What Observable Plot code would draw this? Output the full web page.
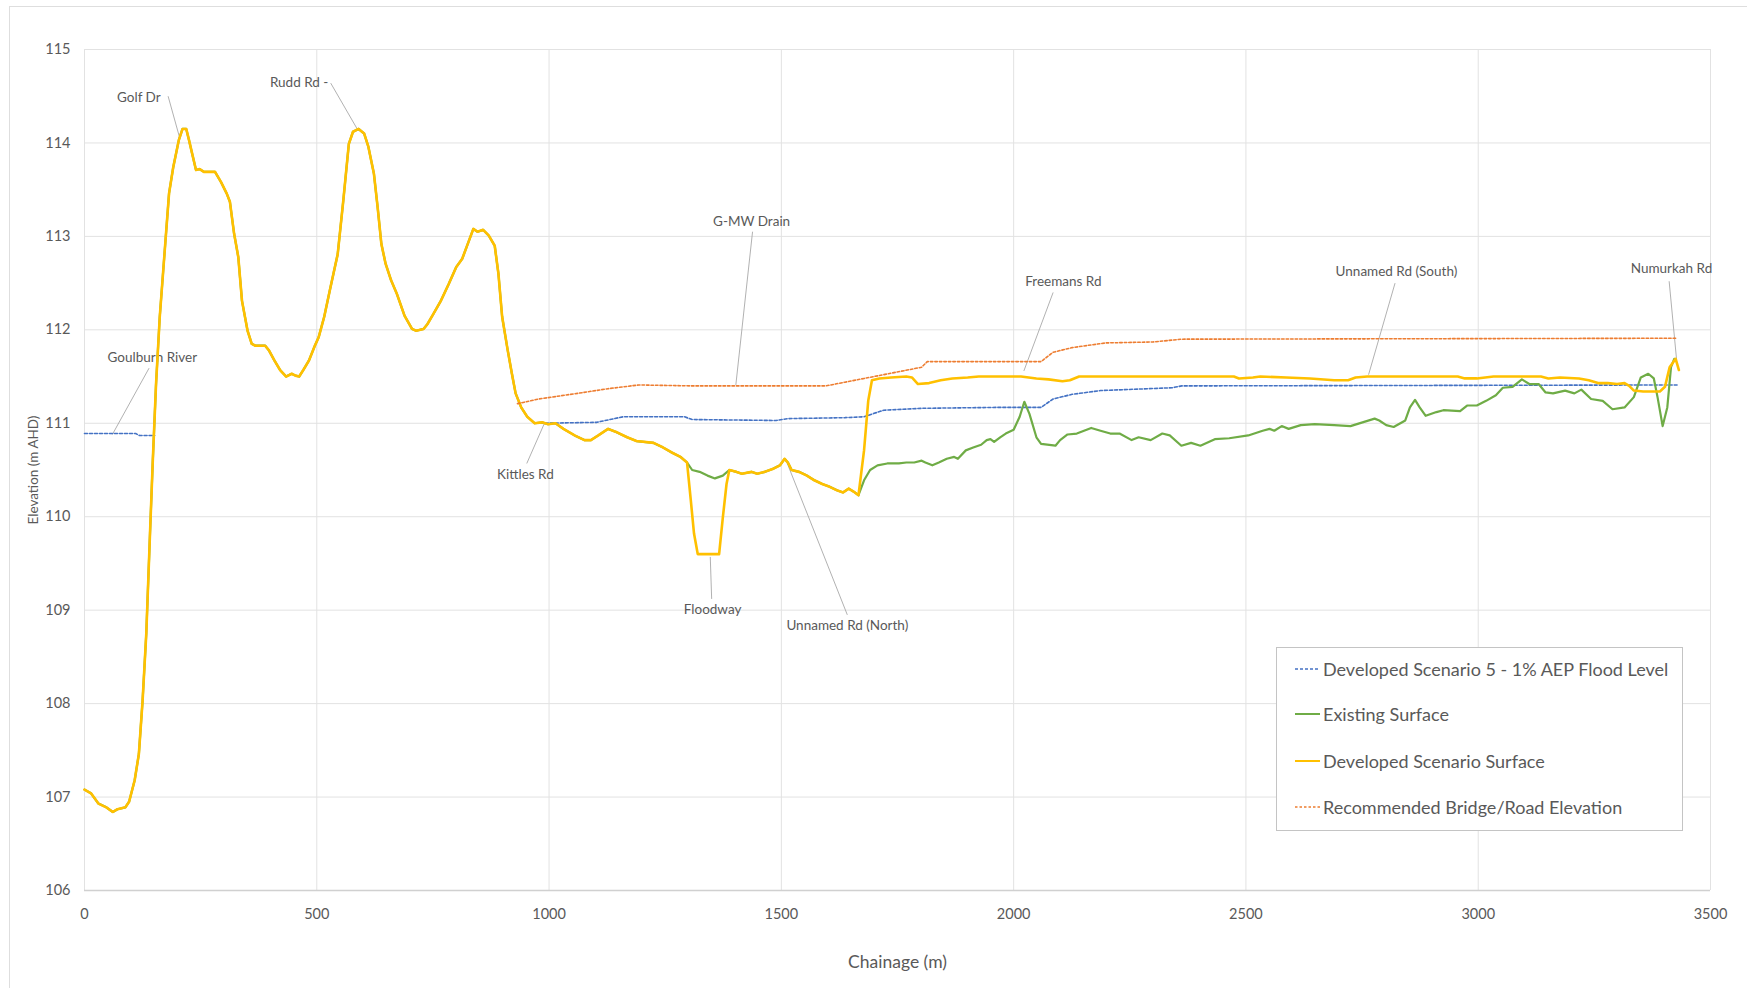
<!DOCTYPE html>
<html>
<head>
<meta charset="utf-8">
<script src="https://cdn.jsdelivr.net/npm/d3@7"></script>
<script src="https://cdn.jsdelivr.net/npm/@observablehq/plot@0.6"></script>
<style>
  html, body { margin: 0; padding: 0; background: #fff; }
  body { width: 1747px; height: 988px; overflow: hidden; position: relative; font-family: Lato, "Open Sans", sans-serif; }
  #frame { position: absolute; left: 9px; top: 6px; width: 1800px; height: 1100px; border: 1px solid #dedede; box-sizing: border-box; }
  #chart { position: absolute; left: 0; top: 0; }
  #legend { position: absolute; left: 1276px; top: 647px; width: 407px; height: 184px; border: 1px solid #c4c4c4; box-sizing: border-box; background: #fff; }
  .entry { position: absolute; left: 18px; height: 24px; display: flex; align-items: center; color: #595959; font-size: 18px; white-space: nowrap; }
  .entry svg { margin-right: 3px; }
</style>
</head>
<body>
<div id="frame"></div>
<div id="chart"></div>
<div id="legend"></div>
<script>
// ---------- Data (chainage m, elevation m AHD) ----------
const developedSurface = [
  [0,107.08],[14,107.04],[30,106.93],[47,106.89],[61,106.84],[71,106.87],[88,106.89],[96,106.95],
  [108,107.18],[117,107.46],[125,108.03],[133,108.75],[141,109.82],[147,110.6],[154,111.42],[162,112.14],
  [170,112.67],[182,113.46],[191,113.74],[203,114.03],[211,114.15],[219,114.15],[225,114.03],[232,113.88],
  [240,113.71],[248,113.72],[257,113.69],[281,113.69],[294,113.58],[306,113.46],[313,113.37],[322,113.03],
  [331,112.78],[339,112.31],[351,111.99],[360,111.85],[368,111.83],[389,111.83],[397,111.78],[409,111.67],
  [421,111.57],[434,111.50],[446,111.53],[454,111.51],[462,111.50],[471,111.57],[483,111.67],[495,111.82],
  [504,111.92],[516,112.14],[528,112.42],[545,112.81],[557,113.38],[569,113.99],[578,114.12],[590,114.15],
  [602,114.10],[611,113.96],[623,113.67],[631,113.31],[639,112.92],[648,112.71],[660,112.53],[672,112.39],
  [689,112.15],[705,112.01],[714,111.99],[730,112.01],[738,112.06],[751,112.17],[767,112.31],[784,112.49],
  [800,112.67],[813,112.76],[825,112.92],[837,113.08],[846,113.05],[858,113.07],[870,113.01],[883,112.90],
  [891,112.60],[899,112.14],[911,111.78],[920,111.53],[928,111.32],[940,111.17],[953,111.07],[969,111.00],
  [985,111.01],[998,110.99],[1014,111.00],[1031,110.94],[1055,110.87],[1076,110.82],[1090,110.82],[1106,110.87],
  [1127,110.94],[1143,110.91],[1168,110.85],[1188,110.81],[1225,110.79],[1242,110.75],[1263,110.69],[1283,110.64],
  [1297,110.58],[1305,110.18],[1312,109.82],[1320,109.60],[1345,109.60],[1366,109.60],[1374,109.99],[1382,110.35],
  [1388,110.50],[1403,110.48],[1415,110.46],[1436,110.48],[1448,110.46],[1464,110.48],[1481,110.51],[1497,110.55],
  [1507,110.62],[1514,110.58],[1522,110.50],[1538,110.48],[1555,110.44],[1571,110.39],[1588,110.35],[1604,110.32],
  [1621,110.28],[1633,110.26],[1645,110.30],[1658,110.26],[1666,110.23],[1678,110.71],[1687,111.24],[1695,111.46],
  [1711,111.48],[1736,111.49],[1769,111.50],[1781,111.49],[1794,111.42],[1818,111.43],[1843,111.46],[1868,111.48],
  [1901,111.49],[1925,111.50],[2016,111.50],[2049,111.48],[2075,111.47],[2105,111.45],[2121,111.46],[2141,111.50],
  [2474,111.50],[2485,111.48],[2515,111.49],[2531,111.50],[2587,111.49],[2638,111.48],[2690,111.46],[2720,111.46],
  [2736,111.49],[2761,111.50],[2956,111.50],[2971,111.48],[2997,111.48],[3033,111.50],[3135,111.50],[3151,111.48],
  [3176,111.49],[3217,111.48],[3238,111.46],[3258,111.43],[3279,111.43],[3299,111.42],[3315,111.43],[3325,111.40],
  [3335,111.35],[3355,111.34],[3391,111.34],[3402,111.39],[3412,111.60],[3425,111.69],[3432,111.57]
];

// Existing surface where it differs from the developed surface
const existingFloodway = [
  [1297,110.58],[1308,110.50],[1324,110.48],[1341,110.44],[1357,110.41],[1374,110.44],[1388,110.50]
];
const existingSouth = [
  [1666,110.23],[1678,110.39],[1691,110.50],[1707,110.55],[1728,110.57],[1753,110.57],[1769,110.58],[1786,110.58],
  [1802,110.60],[1810,110.58],[1825,110.55],[1839,110.58],[1856,110.62],[1872,110.64],[1880,110.62],[1897,110.71],
  [1913,110.74],[1930,110.77],[1942,110.82],[1950,110.83],[1958,110.80],[1971,110.85],[1983,110.89],[2000,110.93],
  [2013,111.07],[2023,111.23],[2034,111.10],[2049,110.85],[2059,110.78],[2090,110.76],[2100,110.82],[2116,110.88],
  [2136,110.89],[2167,110.95],[2187,110.92],[2208,110.89],[2228,110.89],[2254,110.82],[2269,110.85],[2295,110.82],
  [2320,110.89],[2336,110.87],[2361,110.76],[2382,110.79],[2402,110.76],[2433,110.83],[2464,110.84],[2505,110.87],
  [2536,110.92],[2551,110.94],[2561,110.92],[2577,110.97],[2592,110.94],[2618,110.98],[2648,110.99],[2690,110.98],
  [2725,110.97],[2751,111.01],[2777,111.05],[2787,111.03],[2802,110.98],[2818,110.96],[2843,111.03],[2853,111.17],
  [2864,111.25],[2874,111.17],[2887,111.08],[2910,111.12],[2925,111.14],[2961,111.13],[2976,111.19],[2997,111.19],
  [3017,111.24],[3038,111.30],[3053,111.38],[3074,111.39],[3094,111.47],[3110,111.42],[3130,111.42],[3145,111.33],
  [3161,111.32],[3187,111.35],[3207,111.32],[3222,111.36],[3243,111.26],[3268,111.24],[3289,111.15],[3315,111.17],
  [3335,111.28],[3350,111.49],[3366,111.53],[3378,111.48],[3386,111.28],[3397,110.97],[3407,111.17],[3415,111.60],
  [3422,111.69]
];

const floodLevelRiver = [[0,110.89],[110,110.89],[118,110.87],[151,110.87]];
const floodLevelMain = [
  [981,111.00],[1102,111.01],[1160,111.07],[1291,111.07],[1308,111.04],[1489,111.03],[1514,111.05],[1637,111.06],
  [1678,111.07],[1720,111.14],[1802,111.16],[1967,111.17],[2059,111.17],[2085,111.26],[2126,111.31],[2187,111.35],
  [2341,111.38],[2362,111.40],[3428,111.41]
];

const recommendedElevation = [
  [932,111.21],[978,111.26],[1061,111.32],[1127,111.37],[1193,111.41],[1308,111.40],[1473,111.40],[1596,111.40],
  [1637,111.44],[1720,111.52],[1802,111.60],[1814,111.66],[1884,111.66],[2059,111.66],[2085,111.76],[2126,111.81],
  [2198,111.86],[2300,111.87],[2362,111.90],[3428,111.91]
];

const annotations = [
  {text:"Golf Dr", x:117, y:114.48, x1:180, y1:114.50, x2:204, y2:114.07},
  {text:"Rudd Rd -", x:462, y:114.64, x1:530, y1:114.64, x2:587, y2:114.15},
  {text:"Goulburn River", x:146, y:111.70, x1:139, y1:111.59, x2:60, y2:110.88},
  {text:"Kittles Rd", x:949, y:110.45, x1:952, y1:110.57, x2:990, y2:111.00},
  {text:"G-MW Drain", x:1436, y:113.16, x1:1438, y1:113.05, x2:1402, y2:111.41},
  {text:"Freemans Rd", x:2107, y:112.52, x1:2085, y1:112.40, x2:2022, y2:111.56},
  {text:"Unnamed Rd (South)", x:2824, y:112.62, x1:2821, y1:112.50, x2:2764, y2:111.52},
  {text:"Numurkah Rd", x:3416, y:112.65, x1:3411, y1:112.52, x2:3427, y2:111.68},
  {text:"Floodway", x:1352, y:109.00, x1:1350, y1:109.12, x2:1347, y2:109.57},
  {text:"Unnamed Rd (North)", x:1642, y:108.83, x1:1642, y1:108.95, x2:1512, y2:110.58}
];

const xTicks = [0,500,1000,1500,2000,2500,3000,3500];
const yTicks = [106,107,108,109,110,111,112,113,114,115];

const series = [
  {name:"Developed Scenario 5 - 1% AEP Flood Level", color:"#4472C4", width:1.6, dash:"3,2"},
  {name:"Existing Surface", color:"#6FAC46", width:2.2, dash:null},
  {name:"Developed Scenario Surface", color:"#FFC000", width:2.6, dash:null},
  {name:"Recommended Bridge/Road Elevation", color:"#ED7D31", width:1.6, dash:"2.5,2"}
];

// Existing surface across the whole profile: shares the developed surface outside the modified reaches
const existingSurface = [
  ...developedSurface.filter(d => d[0] < 1297),
  ...existingFloodway,
  ...developedSurface.filter(d => d[0] > 1388 && d[0] < 1666),
  ...existingSouth
];

const X = d => d[0], Y = d => d[1];
const textColor = "#595959";

const chart = Plot.plot({
  width: 1747,
  height: 988,
  marginLeft: 84,
  marginRight: 37,
  marginTop: 49,
  marginBottom: 98,
  style: {fontFamily: "Lato, 'Open Sans', sans-serif", fontSize: "14px", color: textColor, background: "transparent", overflow: "visible"},
  x: {domain: [0, 3500]},
  y: {domain: [106, 115]},
  marks: [
    Plot.gridX(xTicks, {stroke: "#e2e2e2", strokeOpacity: 1, strokeWidth: 1}),
    Plot.gridY(yTicks, {stroke: "#e2e2e2", strokeOpacity: 1, strokeWidth: 1}),
    Plot.ruleY([106], {stroke: "#d0d0d0", strokeWidth: 1.3}),
    Plot.axisX(xTicks, {tickSize: 0, tickPadding: 18, label: null, fill: textColor, fontSize: 14.5, tickFormat: d => String(d)}),
    Plot.axisY(yTicks, {tickSize: 0, tickPadding: 14, label: null, fill: textColor, fontSize: 14.5, tickFormat: d => String(d)}),
    Plot.text(["Chainage (m)"], {frameAnchor: "bottom", dy: 77, fontSize: 17.5, fill: textColor}),
    Plot.text(["Elevation (m AHD)"], {frameAnchor: "left", textAnchor: "middle", dx: -51, rotate: -90, fontSize: 13.5, fill: textColor}),
    // leader lines and labels
    Plot.link(annotations, {x1: "x1", y1: "y1", x2: "x2", y2: "y2", stroke: "#a8a8a8", strokeWidth: 0.9}),
    Plot.text(annotations, {x: "x", y: "y", text: "text", fontSize: 13.5, fill: textColor}),
    // series in Excel drawing order
    Plot.line(floodLevelRiver, {x: X, y: Y, stroke: series[0].color, strokeWidth: series[0].width, strokeDasharray: series[0].dash}),
    Plot.line(floodLevelMain, {x: X, y: Y, stroke: series[0].color, strokeWidth: series[0].width, strokeDasharray: series[0].dash}),
    Plot.line(existingSurface, {x: X, y: Y, stroke: series[1].color, strokeWidth: series[1].width, strokeLinejoin: "round"}),
    Plot.line(developedSurface, {x: X, y: Y, stroke: series[2].color, strokeWidth: series[2].width, strokeLinejoin: "round"}),
    Plot.line(recommendedElevation, {x: X, y: Y, stroke: series[3].color, strokeWidth: series[3].width, strokeDasharray: series[3].dash})
  ]
});
document.getElementById("chart").appendChild(chart);

// Legend (inside plot area, as in the reference)
const legend = d3.select("#legend");
const rowTops = [9, 54, 101, 147];
series.forEach((s, i) => {
  const row = legend.append("div").attr("class", "entry").style("top", rowTops[i] + "px");
  const svg = row.append("svg").attr("width", 25).attr("height", 10);
  svg.append("line").attr("x1", 0).attr("x2", 25).attr("y1", 5).attr("y2", 5)
    .attr("stroke", s.color).attr("stroke-width", s.dash ? 1.5 : 2)
    .attr("stroke-dasharray", s.dash);
  row.append("span").text(s.name);
});
</script>
</body>
</html>
